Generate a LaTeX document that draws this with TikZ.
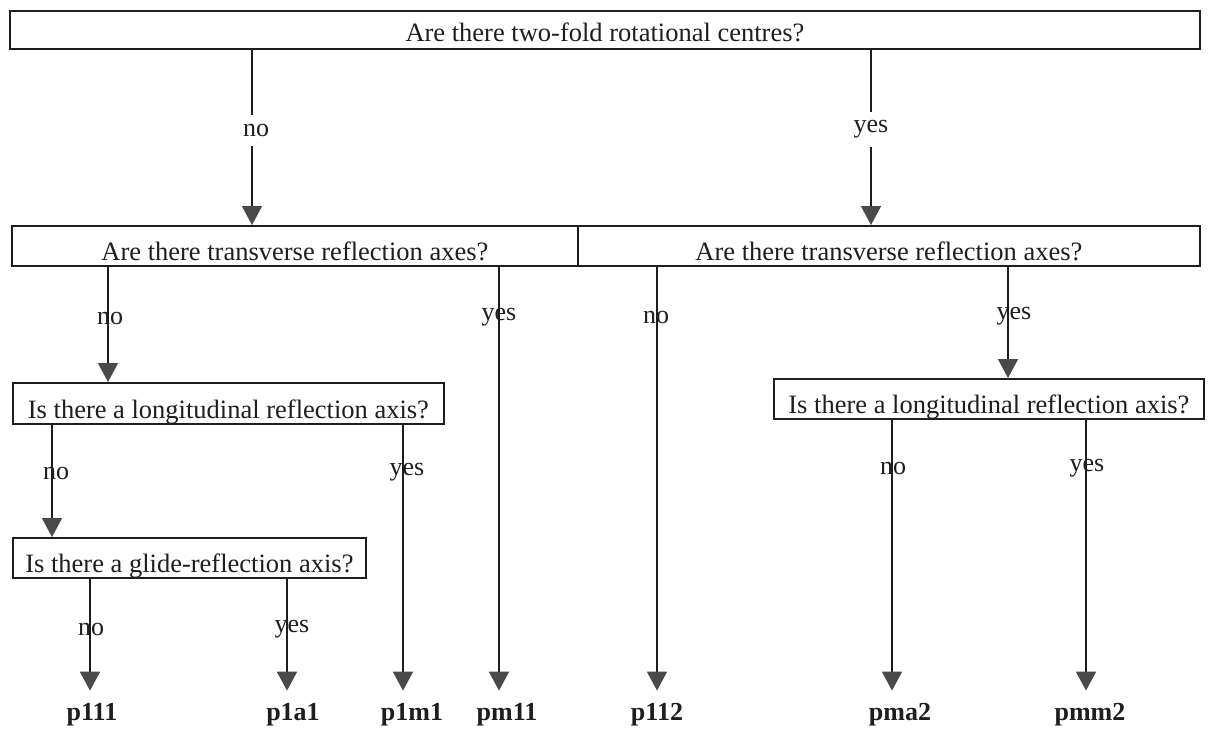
\documentclass[tikz,border=0pt]{standalone}
\usepackage{fontspec}
\setmainfont{Liberation Serif}
\usetikzlibrary{arrows.meta}
\definecolor{ink}{HTML}{1E1E1E}
\definecolor{tipgray}{HTML}{4A4A4A}
\begin{document}
\begin{tikzpicture}[x=1pt,y=-1pt,
  qbox/.style={draw=ink, line width=1.8pt, inner sep=0pt, anchor=north west,
    font=\fontsize{26.5}{30}\selectfont, text=ink},
  conn/.style={draw=ink, line width=1.7pt,
    -{Triangle[width=20pt,length=19pt,fill=tipgray,color=tipgray]}},
  gaplbl/.style={font=\fontsize{26}{30}\selectfont, text=ink, fill=white,
    inner xsep=3pt, inner ysep=9pt},
  lbl/.style={font=\fontsize{26}{30}\selectfont, text=ink, inner sep=0pt},
  res/.style={font=\fontsize{26}{30}\selectfont\bfseries, text=ink, anchor=base,
    inner xsep=0pt, inner ysep=12pt}
]
\useasboundingbox (0,0) rectangle (1209,734);
\fill[white] (0,0) rectangle (1209,734);

% question boxes
\node[qbox, minimum width=1190pt, text height=31pt, text depth=7pt] (top) at (9,10)
  {Are there two-fold rotational centres?};
\node[qbox, minimum width=566pt, text height=35pt, text depth=5pt] (tl) at (11,225)
  {Are there transverse reflection axes?};
\node[qbox, minimum width=622pt, text height=35pt, text depth=5pt] (tr) at (577,225)
  {Are there transverse reflection axes?};
\node[qbox, minimum width=431pt, text height=36pt, text depth=5pt] (ll) at (12,382)
  {Is there a longitudinal reflection axis?};
\node[qbox, minimum width=430pt, text height=35pt, text depth=5pt] (rl) at (773,378)
  {Is there a longitudinal reflection axis?};
\node[qbox, minimum width=353pt, text height=35pt, text depth=5pt] (gl) at (12,537)
  {Is there a glide-reflection axis?};

% results
\node[res] (p111) at (92,720) {p111};
\node[res] (p1a1) at (293,720) {p1a1};
\node[res] (p1m1) at (412,720) {p1m1};
\node[res] (pm11) at (507,720) {pm11};
\node[res] (p112) at (657,720) {p112};
\node[res] (pma2) at (900,720) {pma2};
\node[res] (pmm2) at (1090,720) {pmm2};

% connector columns
\coordinate (cA) at (252,0);
\coordinate (cB) at (871,0);
\coordinate (cC) at (108,0);
\coordinate (cD) at (499,0);
\coordinate (cE) at (657,0);
\coordinate (cF) at (1008,0);
\coordinate (cG) at (52,0);
\coordinate (cH) at (403,0);
\coordinate (cI) at (892,0);
\coordinate (cJ) at (1086,0);
\coordinate (cK) at (90,0);
\coordinate (cL) at (287,0);

% connectors
\draw[conn] (top.south -| cA) -- node[gaplbl, pos=0.46, xshift=4pt] {no} (tl.north -| cA);
\draw[conn] (top.south -| cB) -- node[gaplbl, pos=0.455] {yes} (tr.north -| cB);

\draw[conn] (tl.south -| cC) -- node[lbl, pos=0.45, xshift=2pt] {no} (ll.north -| cC);
\draw[conn] (tl.south -| cD) -- node[lbl, pos=0.12] {yes} (cD |- pm11.north);
\draw[conn] (tr.south -| cE) -- node[lbl, pos=0.12, xshift=-1pt] {no} (cE |- p112.north);
\draw[conn] (tr.south -| cF) -- node[lbl, pos=0.44, xshift=6pt] {yes} (rl.north -| cF);

\draw[conn] (ll.south -| cG) -- node[lbl, pos=0.43, xshift=4pt] {no} (gl.north -| cG);
\draw[conn] (ll.south -| cH) -- node[lbl, pos=0.18, xshift=4pt] {yes} (cH |- p1m1.north);
\draw[conn] (rl.south -| cI) -- node[lbl, pos=0.18, xshift=1pt] {no} (cI |- pma2.north);
\draw[conn] (rl.south -| cJ) -- node[lbl, pos=0.18, xshift=1pt] {yes} (cJ |- pmm2.north);

\draw[conn] (gl.south -| cK) -- node[lbl, pos=0.45, xshift=1pt] {no} (cK |- p111.north);
\draw[conn] (gl.south -| cL) -- node[lbl, pos=0.45, xshift=5pt] {yes} (cL |- p1a1.north);
\end{tikzpicture}
\end{document}
